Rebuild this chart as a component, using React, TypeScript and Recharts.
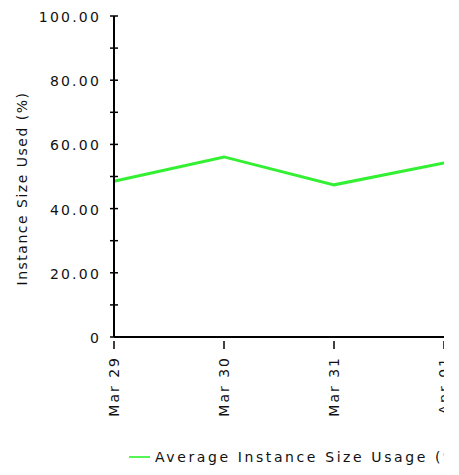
import { LineChart, Line, XAxis, YAxis, Legend } from "recharts";

const dates = ["Mar 29", "Mar 30", "Mar 31", "Apr 01"];
const usage = [48.5, 56.1, 47.4, 54.2];
const yTicks = [0, 10, 20, 30, 40, 50, 60, 70, 80, 90, 100];
const seriesName = "Average Instance Size Usage (%)";

const data = dates.map((date, i) => ({ date, usage: usage[i] }));

const font = "'DejaVu Sans', Verdana, sans-serif";
const GREEN = "#33f033";

const YTick = (props: any) => {
  const { x, y, payload } = props;
  const v = payload.value;
  const axisX = x + 13;
  return (
    <g>
      <line x1={axisX - 4} x2={axisX + 4} y1={y} y2={y} stroke="#000" strokeWidth={1.5} />
      {v % 20 === 0 && (
        <text
          x={x}
          y={y}
          dy={6}
          textAnchor="end"
          fontFamily={font}
          fontSize={14}
          letterSpacing={2.2}
          fill="#111"
        >
          {v === 0 ? "0" : v.toFixed(2)}
        </text>
      )}
    </g>
  );
};

const XTick = (props: any) => {
  const { x, y, payload } = props;
  const axisY = y;
  return (
    <g>
      <line x1={x} x2={x} y1={axisY - 4} y2={axisY + 4} stroke="#000" strokeWidth={1.5} />
      <text
        x={x + 5}
        y={axisY + 11}
        transform={`rotate(-90 ${x + 5} ${axisY + 11})`}
        textAnchor="end"
        fontFamily={font}
        fontSize={14}
        letterSpacing={2}
        fill="#111"
      >
        {payload.value}
      </text>
    </g>
  );
};

const YTitle = (props: any) => {
  const { viewBox } = props;
  const cx = viewBox.x + 19;
  const cy = viewBox.y + viewBox.height / 2 + 12;
  return (
    <text
      x={cx}
      y={cy}
      transform={`rotate(-90 ${cx} ${cy})`}
      textAnchor="middle"
      fontFamily={font}
      fontSize={14}
      letterSpacing={1.5}
      fill="#111"
    >
      Instance Size Used (%)
    </text>
  );
};

const LegendContent = () => (
  <div
    style={{
      display: "flex",
      alignItems: "center",
      height: 18,
      whiteSpace: "nowrap",
      fontFamily: font,
      fontSize: 14,
      letterSpacing: 2.6,
      color: "#111",
    }}
  >
    <span style={{ display: "inline-block", width: 21, height: 2, background: "#55f555", marginRight: 5 }} />
    <span>{seriesName}</span>
  </div>
);

export default function App() {
  return (
    <div style={{ width: 436, height: 467, overflow: "hidden" }}>
      <LineChart
        width={436}
        height={467}
        data={data}
        margin={{ top: 8, right: 0, left: 0, bottom: 40 }}
      >
        <XAxis
          dataKey="date"
          axisLine={{ stroke: "#000", strokeWidth: 2 }}
          tickLine={false}
          tick={<XTick />}
          interval={0}
          height={80}
        />
        <YAxis
          domain={[0, 100]}
          ticks={yTicks}
          interval={0}
          width={106}
          axisLine={{ stroke: "#000", strokeWidth: 2 }}
          tickLine={false}
          tickSize={0}
          tickMargin={13}
          tick={<YTick />}
          label={<YTitle />}
        />
        <Legend
          content={<LegendContent />}
          wrapperStyle={{ left: 121, top: 440, width: 500 }}
        />
        <Line
          dataKey="usage"
          name={seriesName}
          stroke={GREEN}
          strokeWidth={3}
          dot={false}
          isAnimationActive={false}
        />
      </LineChart>
    </div>
  );
}
